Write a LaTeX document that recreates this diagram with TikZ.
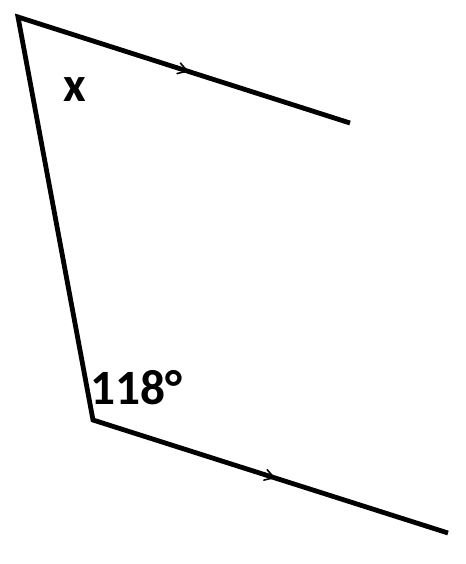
\documentclass[tikz,border=0pt]{standalone}
\usepackage{fontspec}
\setmainfont{Carlito}
\usetikzlibrary{decorations.markings}
\begin{document}
\begin{tikzpicture}[x=0.75pt, y=-0.75pt, line width=3.6pt,
     parallel/.style={postaction={decorate}, decoration={markings, mark=at position 0.51 with {\draw[line width=1.2pt, line cap=round] (-9,-5.5) -- (0,0) -- (-9,5.5);}}},
     angle label/.style={font=\bfseries\fontsize{37}{40}\selectfont, inner sep=0pt}]
   \useasboundingbox (0,0) rectangle (465,564);

   \coordinate (top) at (18,17);
   \coordinate (topend) at (350,123);
   \coordinate (bot) at (93,420);
   \coordinate (botend) at (448,533);

   \draw (topend) -- (top) -- (bot) -- (botend);
   \path[parallel] (top) -- (topend);
   \path[parallel] (bot) -- (botend);

   \node[angle label] (x) at (75,90) {x};
   \node[angle label] (given) at (136,388) {118°};
  \end{tikzpicture}
\end{document}
